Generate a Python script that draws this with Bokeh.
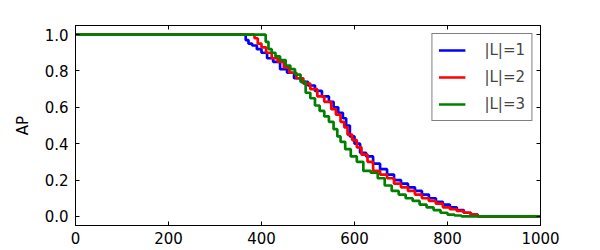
from bokeh.plotting import figure
from bokeh.models import (FixedTicker, LinearAxis, Range1d, Legend, LegendItem,
                          NumeralTickFormatter, CustomJSTickFormatter)
from bokeh.embed import file_html
from bokeh.resources import INLINE

# ---- data ----
x_l1 = [0, 366, 372, 380, 390, 400, 412, 425, 440, 455, 470, 485, 500, 515, 530, 545, 555, 565,
        575, 582, 590, 600, 612, 625, 640, 655, 670, 685, 700, 715, 730, 745, 760, 775, 790, 805,
        820, 835, 850, 865, 1000]
y_l1 = [1.0, 0.97, 0.95, 0.94, 0.92, 0.90, 0.87, 0.85, 0.81, 0.79, 0.76, 0.74, 0.72, 0.69, 0.66,
        0.63, 0.60, 0.57, 0.54, 0.50, 0.44, 0.40, 0.35, 0.33, 0.29, 0.26, 0.23, 0.20, 0.18, 0.16,
        0.14, 0.12, 0.10, 0.08, 0.065, 0.05, 0.035, 0.02, 0.01, 0.0, 0.0]

x_l2 = [0, 385, 392, 400, 410, 422, 435, 448, 460, 475, 490, 505, 520, 535, 550, 560, 570, 578,
        585, 595, 605, 615, 628, 640, 655, 670, 685, 700, 715, 730, 745, 760, 775, 790, 805, 820,
        835, 850, 865, 1000]
y_l2 = [1.0, 0.98, 0.95, 0.93, 0.90, 0.87, 0.85, 0.82, 0.79, 0.76, 0.73, 0.70, 0.66, 0.63, 0.59,
        0.56, 0.52, 0.49, 0.45, 0.42, 0.38, 0.34, 0.30, 0.25, 0.23, 0.21, 0.18, 0.16, 0.14, 0.12,
        0.10, 0.085, 0.07, 0.05, 0.04, 0.03, 0.02, 0.01, 0.0, 0.0]

x_l3 = [0, 409, 415, 422, 430, 440, 452, 462, 472, 484, 495, 505, 515, 525, 535, 545, 555, 563,
        570, 580, 592, 605, 619, 635, 650, 665, 680, 695, 710, 725, 740, 755, 770, 785, 800, 815,
        830, 1000]
y_l3 = [1.0, 0.96, 0.92, 0.90, 0.88, 0.86, 0.83, 0.81, 0.78, 0.74, 0.68, 0.65, 0.61, 0.58, 0.55,
        0.52, 0.48, 0.44, 0.41, 0.37, 0.33, 0.30, 0.25, 0.24, 0.21, 0.17, 0.14, 0.12, 0.10, 0.085,
        0.065, 0.05, 0.035, 0.02, 0.01, 0.005, 0.0, 0.0]

labels = ["|L|=1", "|L|=2", "|L|=3"]
colors = ["#0000ff", "#ff0000", "#008000"]
x_ticks = [0, 200, 400, 600, 800, 1000]
y_ticks = [0.0, 0.2, 0.4, 0.6, 0.8, 1.0]

FONT = "DejaVu Sans"
FS = "15px"

p = figure(width=600, height=250, output_backend="svg", toolbar_location=None,
           x_range=Range1d(0, 1000), y_range=Range1d(-0.05, 1.05),
           min_border_left=75, min_border_right=60, min_border_top=25, min_border_bottom=25)
p.outline_line_color = "black"
p.outline_line_width = 1
p.outline_line_alpha = 1
p.xgrid.visible = False
p.ygrid.visible = False
p.background_fill_color = "white"
p.border_fill_color = "white"

renderers = []
for xs, ys, c in zip([x_l1, x_l2, x_l3], [y_l1, y_l2, y_l3], colors):
    r = p.step(xs, ys, mode="after", line_color=c, line_width=2.7)
    renderers.append(r)

def style_axis(ax):
    ax.axis_line_color = "black"
    ax.major_tick_in = 4
    ax.major_tick_out = 0
    ax.minor_tick_line_color = None
    ax.major_tick_line_color = "black"
    ax.major_label_text_font = FONT
    ax.major_label_text_font_size = FS
    ax.major_label_text_color = "black"
    ax.major_label_standoff = 6

xa = p.xaxis[0]
xa.ticker = FixedTicker(ticks=x_ticks)
style_axis(xa)
ya = p.yaxis[0]
ya.ticker = FixedTicker(ticks=y_ticks)
ya.formatter = NumeralTickFormatter(format="0.0")
style_axis(ya)
ya.major_label_standoff = 7
ya.axis_label = "AP"
ya.axis_label_text_font = FONT
ya.axis_label_text_font_size = FS
ya.axis_label_text_font_style = "normal"
ya.axis_label_text_color = "black"
ya.axis_label_standoff = 10

blank = CustomJSTickFormatter(code="return ''")
top = LinearAxis(ticker=FixedTicker(ticks=x_ticks), formatter=blank)
style_axis(top)
top.major_label_standoff = 0
p.add_layout(top, "above")
right = LinearAxis(ticker=FixedTicker(ticks=y_ticks), formatter=blank)
style_axis(right)
right.major_label_standoff = 0
p.add_layout(right, "right")

legend = Legend(items=[LegendItem(label=l, renderers=[r]) for l, r in zip(labels, renderers)],
                location="top_right")
legend.border_line_color = "black"
legend.border_line_width = 1
legend.label_text_font = FONT
legend.label_text_font_size = FS
legend.glyph_width = 27
legend.glyph_height = 20
legend.label_height = 20
legend.spacing = 7
legend.margin = 8
legend.padding = 6
legend.label_standoff = 19
legend.background_fill_alpha = 1
p.add_layout(legend)

open("out.html", "w").write(file_html(p, INLINE))
